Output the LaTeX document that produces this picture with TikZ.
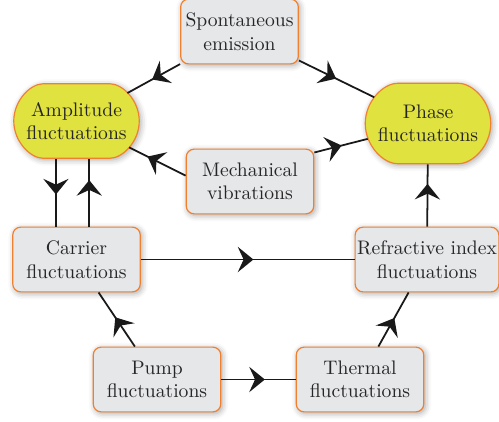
\documentclass[tikz,border=0pt]{standalone}
\usetikzlibrary{shapes.misc,decorations.markings,shadows.blur}
\definecolor{boxgray}{RGB}{230,231,233}
\definecolor{boxline}{RGB}{240,128,48}
\definecolor{hotfill}{RGB}{224,226,64}
\tikzset{
  fbox/.style={draw=boxline, fill=boxgray, rounded corners=4pt, align=center,
    line width=0.6pt, minimum width=65pt, minimum height=33pt, inner xsep=1pt,
    text=black!85, blur shadow={shadow xshift=0.8pt, shadow yshift=-0.8pt,
    shadow blur radius=3pt, shadow opacity=35}},
  fblob/.style={fbox, fill=hotfill, rounded rectangle, minimum width=66pt},
  midarr/.style={line width=0.9pt, draw=black!90,
    decoration={markings, mark=at position #1 with {\fill[black!90] (4pt,0) -- (-4pt,6.5pt) -- (-1pt,0) -- (-4pt,-6.5pt) -- cycle ;}},
    postaction={decorate}},
  midarr/.default=0.5
}
\begin{document}
\begin{tikzpicture}[x=0.51pt, y=-0.51pt]
	\useasboundingbox (0,0) rectangle (499,421);
		\node (spont)[fbox, minimum width=60pt] at (239.5, 31.5) {Spontaneous\\emission} ;
		\node (amp)[fblob, minimum height=38pt] at (76.5, 121) {Amplitude\\fluctuations} ;
		\node (phase)[fblob, minimum height=41pt] at (428, 123.5) {Phase\\fluctuations} ;
		\node (mech)[fbox] at (250, 181.5) {Mechanical\\vibrations} ;
		\node (carr)[fbox] at (76.5, 259.5) {Carrier\\fluctuations} ;
		\node (refr)[fbox] at (427, 259.5) {Refractive index\\fluctuations} ;
		\node (pump)[fbox] at (157, 379.5) {Pump\\fluctuations} ;
		\node (therm)[fbox] at (360, 379.5) {Thermal\\fluctuations} ;
	% top and middle
	\draw[midarr=0.4] (spont) -- (amp) ;
	\draw[midarr=0.4] (spont) -- (phase) ;
	\draw[midarr=0.55] ([yshift=3pt]mech.west) -- (amp) ;
	\draw[midarr=0.37] ([yshift=-2pt]mech.north east) -- (phase) ;
	\draw[midarr=0.41] ([xshift=-10.5pt]amp.south) -- ([xshift=-10.5pt]carr.north) ;
	\draw[midarr=0.57] ([xshift=6.5pt]carr.north) -- ([xshift=6.5pt]amp.south) ;
	\draw[midarr=0.49] (carr) -- (refr) ;
	\draw[midarr=0.56] (refr) -- (phase) ;
	% bottom
	\draw[midarr=0.42] (pump) -- (carr) ;
	\draw[midarr=0.48] (pump) -- (therm) ;
	\draw[midarr=0.4] (therm) -- (refr) ;
\end{tikzpicture}
\end{document}
